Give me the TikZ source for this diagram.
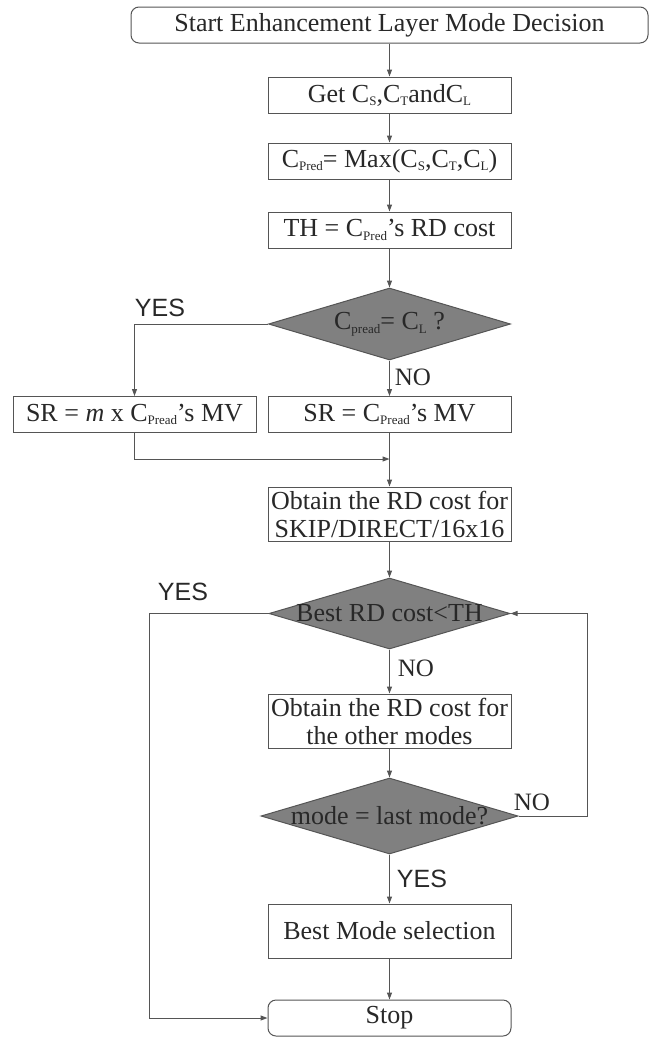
\documentclass[tikz,border=0pt]{standalone}
\usepackage{fontspec}
\setmainfont{Liberation Serif}
\newfontfamily\labelsans{Liberation Sans}
\usetikzlibrary{arrows.meta, shapes.geometric}
\definecolor{linegray}{RGB}{85,85,85}
\definecolor{diafill}{RGB}{128,128,128}
\definecolor{textgray}{RGB}{40,40,40}
\newcommand{\subtxt}[1]{\raisebox{-0.3ex}{\fontsize{13}{13}\selectfont #1}}

\begin{document}
\begin{tikzpicture}[x=1pt, y=-1pt,
  font=\fontsize{26}{28}\selectfont, text=textgray,
  box/.style={draw=linegray, line width=1pt, minimum width=243pt, minimum height=36pt, inner sep=2pt, align=center},
  tallbox/.style={box, minimum height=54pt},
  terminal/.style={box, rounded corners=8pt},
  decision/.style={diamond, draw=linegray, fill=diafill, line width=1pt, inner sep=0pt},
  arr/.style={draw=linegray, line width=1pt, -{Triangle[length=7pt,width=5pt]}},
  yeslabel/.style={font=\labelsans\fontsize{25}{25}\selectfont},
  nolabel/.style={font=\fontsize{25}{25}\selectfont}]
  \useasboundingbox (0,0) rectangle (662,1037);

  % main column
  \node[terminal, minimum width=517pt] (start) at (389.5,25) {Start Enhancement Layer Mode Decision};
  \node[box] (get) at (389.5,95) {Get C\subtxt{S},C\subtxt{T}andC\subtxt{L}};
  \node[box] (cpred) at (389.5,161) {C\subtxt{Pred}= Max(C\subtxt{S},C\subtxt{T},C\subtxt{L})};
  \node[box] (th) at (389.5,230) {TH = C\subtxt{Pred}’s RD cost};
  \node[decision, minimum width=242pt, minimum height=72pt] (d1) at (389.5,324) {\makebox[0pt]{C\subtxt{pread}= C\subtxt{L} ?}};

  % search range boxes
  \node[box] (srl) at (134.5,414.5) {SR = \textit{m} x C\subtxt{Pread}’s MV};
  \node[box] (srr) at (389.5,414.5) {SR = C\subtxt{Pread}’s MV};
  \coordinate (merge) at (389.5,459);

  % mode loop
  \node[tallbox] (rd16) at (389.5,514) {Obtain the RD cost for\\SKIP/DIRECT/16x16};
  \node[decision, minimum width=241pt, minimum height=71pt] (d2) at (389.5,613.5) {\makebox[0pt]{Best RD cost<TH}};
  \node[tallbox] (rdall) at (389.5,721) {Obtain the RD cost for\\the other modes};
  \node[decision, minimum width=257pt, minimum height=76pt] (d3) at (389.5,816) {\makebox[0pt]{mode = last mode?}};
  \node[tallbox] (best) at (389.5,931) {Best Mode selection};
  \node[terminal] (stop) at (389.5,1018) {Stop};

  % branch labels
  \node[yeslabel] (yes1) at (160,308) {YES};
  \node[nolabel] (no1) at (413,377) {NO};
  \node[yeslabel] (yes2) at (183,592) {YES};
  \node[nolabel] (no2) at (416,668) {NO};
  \node[nolabel] (no3) at (532,802) {NO};
  \node[yeslabel] (yes3) at (422,879) {YES};

  % connectors
  \draw[arr] (start) -- (get);
  \draw[arr] (get) -- (cpred);
  \draw[arr] (cpred) -- (th);
  \draw[arr] (th) -- (d1);
  \draw[arr] (d1.west) -| (srl.north);
  \draw[arr] (d1) -- (srr);
  \draw[arr] (srl.south) |- (merge);
  \draw[arr] (srr) -- (rd16);
  \draw[arr] (rd16) -- (d2);
  \draw[arr] (d2.west) -- ++(-119.5,0) |- (stop.west);
  \draw[arr] (d2) -- (rdall);
  \draw[arr] (rdall) -- (d3);
  \draw[arr] (d3.east) -- ++(69,0) |- (d2.east);
  \draw[arr] (d3) -- (best);
  \draw[arr] (best) -- (stop);
\end{tikzpicture}
\end{document}
